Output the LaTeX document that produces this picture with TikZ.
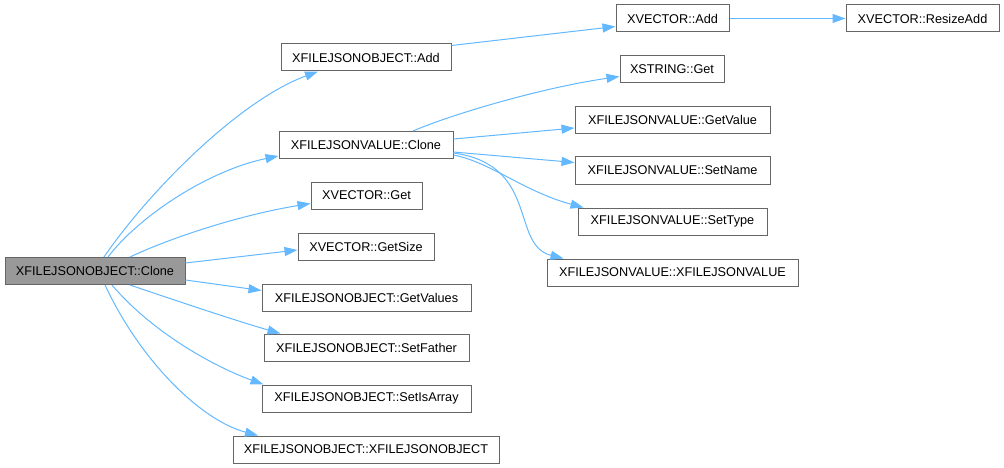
\documentclass[tikz,border=0pt]{standalone}
\usepackage{fontspec}
\setmainfont{Liberation Sans}
\usetikzlibrary{arrows.meta,calc}
\definecolor{edgecol}{HTML}{63B8FF}
\definecolor{bord}{HTML}{666666}
\definecolor{mainfill}{HTML}{999999}
\begin{document}
\begin{tikzpicture}[x=1pt,y=-1pt,
  box/.style={draw=bord,line width=1pt,fill=white,minimum height=27pt,inner sep=0pt,
    font=\fontsize{12.7}{14}\selectfont,anchor=center},
  conn/.style={draw=edgecol,line width=1pt,-{Triangle[length=13pt,width=9pt]}}]
\useasboundingbox (0,0) rectangle (1004,468);
\node[box,fill=mainfill,minimum width=180pt] (main) at (95,271) {XFILEJSONOBJECT::Clone};
\node[box,minimum width=170pt] (oadd) at (366,57.5) {XFILEJSONOBJECT::Add};
\node[box,minimum width=174pt] (vclone) at (366,145) {XFILEJSONVALUE::Clone};
\node[box,minimum width=111pt] (vget) at (366.5,195.5) {XVECTOR::Get};
\node[box,minimum width=136pt] (getsize) at (366,246.5) {XVECTOR::GetSize};
\node[box,minimum width=209pt] (getvalues) at (366.5,297.5) {XFILEJSONOBJECT::GetValues};
\node[box,minimum width=205pt] (setfather) at (366.5,347.5) {XFILEJSONOBJECT::SetFather};
\node[box,minimum width=209pt] (setisarray) at (366.5,398.5) {XFILEJSONOBJECT::SetIsArray};
\node[box,minimum width=266pt] (jobject) at (366,449.5) {XFILEJSONOBJECT::XFILEJSONOBJECT};
\node[box,minimum width=113pt] (vadd) at (672.5,18.5) {XVECTOR::Add};
\node[box,minimum width=153pt] (resize) at (922.5,18.5) {XVECTOR::ResizeAdd};
\node[box,minimum width=104pt] (sget) at (672,69.5) {XSTRING::Get};
\node[box,minimum width=195pt] (getvalue) at (672.5,120) {XFILEJSONVALUE::GetValue};
\node[box,minimum width=195pt] (setname) at (672.5,170.5) {XFILEJSONVALUE::SetName};
\node[box,minimum width=189pt] (settype) at (672.5,221.5) {XFILEJSONVALUE::SetType};
\node[box,minimum width=251pt] (jvalue) at (672.5,272.5) {XFILEJSONVALUE::XFILEJSONVALUE};
% edges from main
\draw[conn] ($(main.north)+(9,0)$) .. controls (150,190) and (240,100) .. ($(oadd.south)+(-48,0)$);
\draw[conn] ($(main.north)+(13,0)$) .. controls (140,215) and (210,170) .. ($(vclone.west)+(0,11)$);
\draw[conn] ($(main.north)+(35,0)$) .. controls (170,238) and (240,215) .. ($(vget.west)+(0,8)$);
\draw[conn] ($(main.east)+(0,-8)$) -- ($(getsize.west)+(0,3.5)$);
\draw[conn] ($(main.east)+(0,9)$) -- ($(getvalues.west)+(0,-7)$);
\draw[conn] ($(main.south)+(35,0)$) .. controls (180,302) and (240,322) .. ($(setfather.north)+(-86,0)$);
\draw[conn] ($(main.south)+(17,0)$) .. controls (150,330) and (210,365) .. ($(setisarray.north)+(-103,0)$);
\draw[conn] ($(main.south)+(10,0)$) .. controls (140,360) and (200,420) .. ($(jobject.north)+(-108,0)$);
% edges from vclone
\draw[conn] ($(vclone.north)+(47,0)$) .. controls (450,115) and (540,88) .. ($(sget.west)+(0,7)$);
\draw[conn] ($(vclone.east)+(0,-6)$) -- ($(getvalue.west)+(0,8)$);
\draw[conn] ($(vclone.east)+(0,7)$) -- ($(setname.west)+(0,-8)$);
\draw[conn] ($(vclone.east)+(0,10)$) .. controls (490,162) and (525,192) .. ($(settype.north)+(-89,0)$);
\draw[conn] ($(vclone.east)+(0,8)$) .. controls (540,165) and (510,245) .. ($(jvalue.north)+(-109,0)$);
% others
\draw[conn] ($(oadd.east)+(0,-12)$) -- ($(vadd.west)+(0,8)$);
\draw[conn] (vadd.east) -- (resize.west);
\end{tikzpicture}
\end{document}
